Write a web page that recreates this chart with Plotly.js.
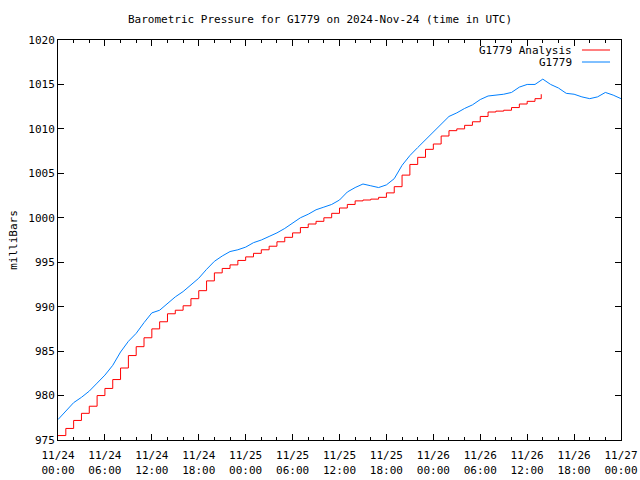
<!DOCTYPE html>
<html>
<head>
<meta charset="utf-8">
<script src="https://cdn.plot.ly/plotly-3.0.1.min.js"></script>
<style>html,body{margin:0;padding:0;background:#fff;}#chart{width:640px;height:480px;}</style>
</head>
<body>
<div id="chart"></div>
<script>
// Hours since 2024-11-24 00:00 UTC
const startTime = "2024-11-24T00:00:00Z";

const observedHours = [0,1,2,3,4,5,6,7,8,9,10,11,12,13,14,15,16,17,18,19,20,21,22,23,24,25,26,27,28,29,30,31,32,33,34,35,36,37,38,39,40,41,42,43,44,45,46,47,48,49,50,51,52,53,54,55,56,57,58,59,60,61,62,63,64,65,66,67,68,69,70,71,72];
const observedPressure = [977.3,978.3,979.2,979.8,980.5,981.4,982.3,983.4,984.9,986.1,987.0,988.2,989.3,989.6,990.4,991.1,991.7,992.5,993.2,994.2,995.1,995.7,996.2,996.4,996.7,997.2,997.5,997.9,998.3,998.8,999.4,1000.0,1000.4,1000.9,1001.2,1001.5,1002.0,1002.9,1003.4,1003.8,1003.6,1003.4,1003.7,1004.4,1005.9,1007.0,1007.9,1008.8,1009.6,1010.5,1011.4,1011.8,1012.3,1012.7,1013.3,1013.7,1013.8,1013.9,1014.1,1014.7,1015.0,1015.0,1015.6,1015.0,1014.6,1014.0,1013.9,1013.6,1013.4,1013.6,1014.1,1013.8,1013.4];

const analysisHours = [0,1,2,3,4,5,6,7,8,9,10,11,12,13,14,15,16,17,18,19,20,21,22,23,24,25,26,27,28,29,30,31,32,33,34,35,36,37,38,39,40,41,42,43,44,45,46,47,48,49,50,51,52,53,54,55,56,57,58,59,60,61,61.8];
const analysisPressure = [975.5,976.3,977.2,978.0,978.8,980.0,980.8,981.8,983.1,984.5,985.5,986.5,987.5,988.3,989.2,989.6,990.1,990.9,991.8,992.9,993.8,994.3,994.7,995.2,995.6,996.0,996.4,996.8,997.3,997.8,998.3,998.9,999.3,999.6,1000.0,1000.5,1001.1,1001.5,1001.9,1002.0,1002.1,1002.3,1002.8,1003.5,1004.8,1006.0,1006.8,1007.7,1008.3,1009.2,1009.8,1010.0,1010.4,1010.8,1011.4,1011.9,1012.0,1012.1,1012.4,1012.8,1013.1,1013.4,1013.9];

const tickTimes = ["2024-11-24 00:00","2024-11-24 06:00","2024-11-24 12:00","2024-11-24 18:00","2024-11-25 00:00","2024-11-25 06:00","2024-11-25 12:00","2024-11-25 18:00","2024-11-26 00:00","2024-11-26 06:00","2024-11-26 12:00","2024-11-26 18:00","2024-11-27 00:00"];
const tickLabels = ["11/24<br>00:00","11/24<br>06:00","11/24<br>12:00","11/24<br>18:00","11/25<br>00:00","11/25<br>06:00","11/25<br>12:00","11/25<br>18:00","11/26<br>00:00","11/26<br>06:00","11/26<br>12:00","11/26<br>18:00","11/27<br>00:00"];
const yTicks = [975,980,985,990,995,1000,1005,1010,1015,1020];

function toTime(h){
  const d = new Date(Date.parse(startTime) + h*3600*1000);
  return d.toISOString().replace("T"," ").replace("Z","").slice(0,19);
}

const font = {family: "DejaVu Sans Mono, monospace", size: 11, color: "#000"};

const traces = [
  {x: observedHours.map(toTime), y: observedPressure, type: "scatter", mode: "lines",
   name: "G1779", line: {color: "#0080ff", width: 1}},
  {x: analysisHours.map(toTime), y: analysisPressure, type: "scatter", mode: "lines",
   name: "G1779 Analysis", line: {color: "#ff0000", width: 1, shape: "hv"}}
];

const layout = {
  width: 640, height: 480,
  margin: {l: 58, r: 19, t: 40, b: 40},
  paper_bgcolor: "#fff", plot_bgcolor: "#fff",
  font: font,
  showlegend: false,
  title: {text: "Barometric Pressure for G1779 on 2024-Nov-24 (time in UTC)", font: {family: font.family, size: 11, color: "#000"}, x: 0.5, xanchor: "center", y: 0.96, yanchor: "middle"},
  xaxis: {
    type: "date",
    range: ["2024-11-24 00:00", "2024-11-27 00:00"],
    tickmode: "array", tickvals: tickTimes, ticktext: tickLabels,
    ticks: "inside", ticklen: 6, tickwidth: 1, tickcolor: "#000",
    showline: true, linecolor: "#000", linewidth: 1, mirror: "ticks",
    showgrid: false, zeroline: false,
    ticklabelstandoff: 5,
    minor: {dtick: 2*3600*1000, ticks: "inside", ticklen: 3, tickcolor: "#000", showgrid: false},
    tickfont: font, automargin: false
  },
  yaxis: {
    range: [975, 1020],
    tickmode: "array", tickvals: yTicks,
    ticks: "inside", ticklen: 6, tickwidth: 1, tickcolor: "#000",
    showline: true, linecolor: "#000", linewidth: 1, mirror: "ticks",
    showgrid: false, zeroline: false,
    title: {text: "milliBars", font: font, standoff: 8},
    tickfont: font, automargin: false
  },
  annotations: [
    {xref: "paper", yref: "paper", x: 0.9165, y: 0.975, text: "G1779 Analysis", showarrow: false, xanchor: "right", yanchor: "middle", font: font},
    {xref: "paper", yref: "paper", x: 0.9165, y: 0.945, text: "G1779", showarrow: false, xanchor: "right", yanchor: "middle", font: font}
  ],
  shapes: [
    {type: "line", xref: "paper", yref: "paper", x0: 0.9307, x1: 0.9805, y0: 0.975, y1: 0.975, line: {color: "#ff0000", width: 1}},
    {type: "line", xref: "paper", yref: "paper", x0: 0.9307, x1: 0.9805, y0: 0.945, y1: 0.945, line: {color: "#0080ff", width: 1}}
  ]
};

Plotly.newPlot("chart", traces, layout, {staticPlot: true, displayModeBar: false});
</script>
</body>
</html>
